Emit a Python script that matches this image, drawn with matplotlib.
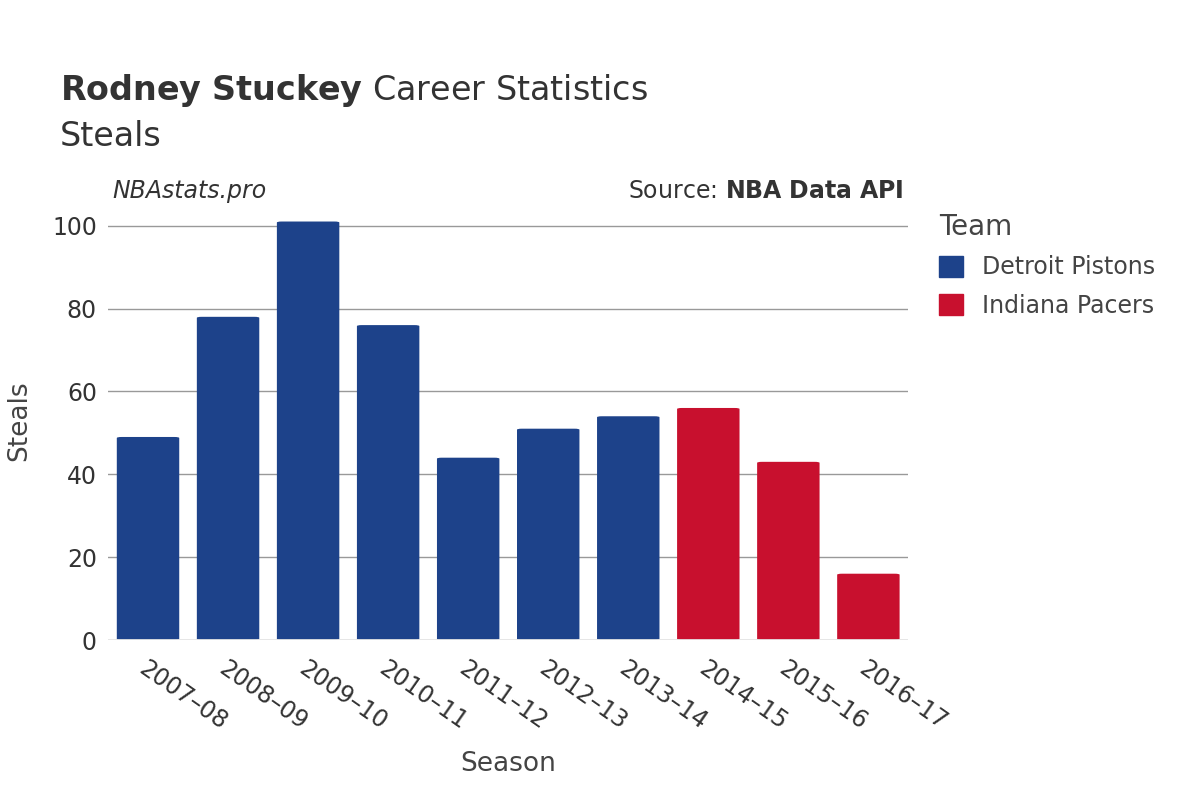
import matplotlib.pyplot as plt
from matplotlib.patches import FancyBboxPatch, Patch

seasons = ["2007–08", "2008–09", "2009–10", "2010–11", "2011–12",
           "2012–13", "2013–14", "2014–15", "2015–16", "2016–17"]
steals = [49, 78, 101, 76, 44, 51, 54, 56, 43, 16]
teams = ["Detroit Pistons"] * 7 + ["Indiana Pacers"] * 3
team_colors = {"Detroit Pistons": "#1d428a", "Indiana Pacers": "#c8102e"}

fig = plt.figure(figsize=(12, 8), dpi=100)
ax = fig.add_axes([0.09, 0.2, 0.667, 0.549])

bars = ax.bar(range(len(seasons)), steals, width=0.78,
              color=[team_colors[t] for t in teams])
# swap plain rectangles for slightly rounded ones
for b in bars:
    x, y, w, h = b.get_x(), b.get_y(), b.get_width(), b.get_height()
    b.set_visible(False)
    ax.add_patch(FancyBboxPatch((x, y), w, h, boxstyle="round,pad=0,rounding_size=0.06",
                                mutation_aspect=4, fc=b.get_facecolor(), ec="none", zorder=3))

ax.set_xlim(-0.5, len(seasons) - 0.5)
ax.set_ylim(0, 106)
ax.set_yticks(range(0, 101, 20))
ax.grid(axis="y", color="#999999", lw=1, zorder=0)
for s in ax.spines.values():
    s.set_visible(False)
ax.axhline(0, color="#e6e6e6", lw=2, zorder=4)
ax.tick_params(length=0, labelsize=17, colors="#333333", pad=8)
ax.tick_params(axis="x", pad=12)
ax.set_xticks(range(len(seasons)))
ax.set_xticklabels(seasons, rotation=-35, ha="left", rotation_mode="anchor")
ax.set_xlabel("Season", fontsize=19, color="#444444", labelpad=12)
ax.set_ylabel("Steals", fontsize=19, color="#444444", labelpad=14)

fig.text(0.05, 0.875, r"$\bf{Rodney\ Stuckey}$ Career Statistics", fontsize=24, color="#333333")
fig.text(0.05, 0.818, "Steals", fontsize=24, color="#333333")
fig.text(0.094, 0.752, "NBAstats.pro", fontsize=17, style="italic", color="#333333")
fig.text(0.753, 0.752, r"Source: $\bf{NBA\ Data\ API}$", fontsize=17, color="#333333", ha="right")

handles = [Patch(color=c, label=t) for t, c in team_colors.items()]
leg = fig.legend(handles=handles, loc="upper left", bbox_to_anchor=(0.765, 0.76),
                 title="Team", frameon=False, fontsize=17, title_fontsize=20,
                 handlelength=1, handleheight=1, labelspacing=0.6)
leg._legend_box.align = "left"
for t in leg.get_texts():
    t.set_color("#444444")
leg.get_title().set_color("#444444")

fig.savefig("out.png")
